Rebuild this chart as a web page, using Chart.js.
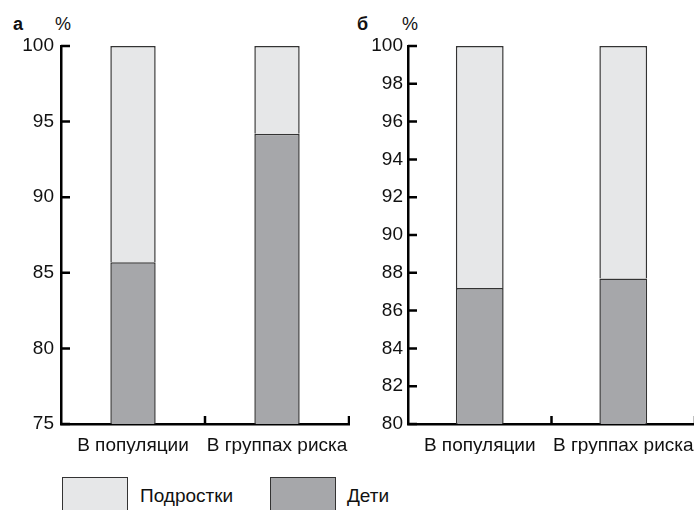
<!DOCTYPE html>
<html>
<head>
<meta charset="utf-8">
<script src="https://cdn.jsdelivr.net/npm/chart.js@4"></script>
<style>
	body { margin: 0; width: 694px; height: 510px; overflow: hidden; background: #fff; font-family: 'Liberation Sans', Arial, sans-serif; position: relative; }
	.wrap { position: absolute; top: 0; }
	.panel { position: absolute; font-size: 18px; color: #111; }
	.box { position: absolute; top: 477px; width: 66px; height: 50px; border: 1.5px solid #333; box-sizing: border-box; }
	.leg { position: absolute; top: 485px; font-size: 19px; color: #111; }
</style>
</head>
<body>
<div class="panel" style="left:13px;top:14px;font-weight:bold;">а</div>
<div class="panel" style="left:55px;top:14px;">%</div>
<div class="panel" style="left:357px;top:14px;font-weight:bold;">б</div>
<div class="panel" style="left:402px;top:14px;">%</div>

<div class="wrap" style="left:0;width:350px;height:454px;"><canvas id="chartA"></canvas></div>
<div class="wrap" style="left:340px;width:356px;height:454px;"><canvas id="chartB"></canvas></div>

<div class="box" style="left:62px;background:#e6e7e8;"></div>
<div class="leg" style="left:140px;">Подростки</div>
<div class="box" style="left:270px;background:#a6a7aa;"></div>
<div class="leg" style="left:347px;">Дети</div>

<script>
const categories = ['В популяции', 'В группах риска'];
const seriesNames = ['Дети', 'Подростки'];

// panel а
const childrenA = [85.7, 94.2];
const teensA = [14.3, 5.8];
// panel б
const childrenB = [87.2, 87.7];
const teensB = [12.8, 12.3];

const colors = ['#a6a7aa', '#e6e7e8'];
const font = "'Liberation Sans', Arial, sans-serif";

// short tick marks drawn inside the plot, like in the print
const innerTicks = {
	id: 'innerTicks',
	afterDraw(chart) {
		const ctx = chart.ctx;
		const x = chart.scales.x;
		const y = chart.scales.y;
		const area = chart.chartArea;
		ctx.save();
		ctx.strokeStyle = '#000';
		ctx.lineWidth = 2.5;
		ctx.beginPath();
		y.ticks.forEach(t => {
			const py = y.getPixelForValue(t.value);
			ctx.moveTo(area.left, py);
			ctx.lineTo(area.left + 9, py);
		});
		const half = (x.getPixelForTick(1) - x.getPixelForTick(0)) / 2;
		x.ticks.forEach((t, i) => {
			const px = x.getPixelForTick(i) + half;
			ctx.moveTo(px, area.bottom);
			ctx.lineTo(px, area.bottom - 8);
		});
		ctx.stroke();
		ctx.restore();
	}
};

const createChart = (elem, children, teens, min, step, axisWidth, labelPad, barPct) => {
	return new Chart(elem, {
		type: 'bar',
		data: {
			labels: categories,
			datasets: [
				{ label: seriesNames[0], data: children, backgroundColor: colors[0], borderSkipped: false },
				{ label: seriesNames[1], data: teens, backgroundColor: colors[1], borderSkipped: 'start' },
			].map(ds => Object.assign(ds, {
				borderColor: '#333',
				borderWidth: 1.5,
				barPercentage: barPct,
				categoryPercentage: 1,
				clip: { left: 0, top: 3, right: 0, bottom: 0 },
			}))
		},
		options: {
			responsive: true,
			maintainAspectRatio: false,
			animation: false,
			layout: { padding: { top: 46, right: 1, left: 0, bottom: 0 } },
			plugins: { legend: { display: false }, tooltip: { enabled: false } },
			scales: {
				x: {
					stacked: true,
					z: 1,
					grid: { display: true, drawOnChartArea: false, drawTicks: false },
					border: { color: '#000', width: 2.5 },
					ticks: { color: '#111', font: { family: font, size: 19 }, padding: 10, maxRotation: 0, autoSkip: false },
					afterFit: s => {
						s.height = 30;
						s.paddingLeft = 0;
						s.paddingRight = 0;
					}
				},
				y: {
					stacked: true,
					z: 1,
					min: min,
					max: 100,
					grid: { display: true, drawOnChartArea: false, drawTicks: false },
					border: { color: '#000', width: 2.5 },
					ticks: { stepSize: step, color: '#111', font: { family: font, size: 19 }, padding: labelPad },
					afterFit: s => { s.width = axisWidth; }
				}
			}
		},
		plugins: [innerTicks]
	});
}

createChart(document.getElementById('chartA'), childrenA, teensA, 75, 5, 61, 7, 0.315);
createChart(document.getElementById('chartB'), childrenB, teensB, 80, 2, 68, 5, 0.333);
</script>
</body>
</html>
